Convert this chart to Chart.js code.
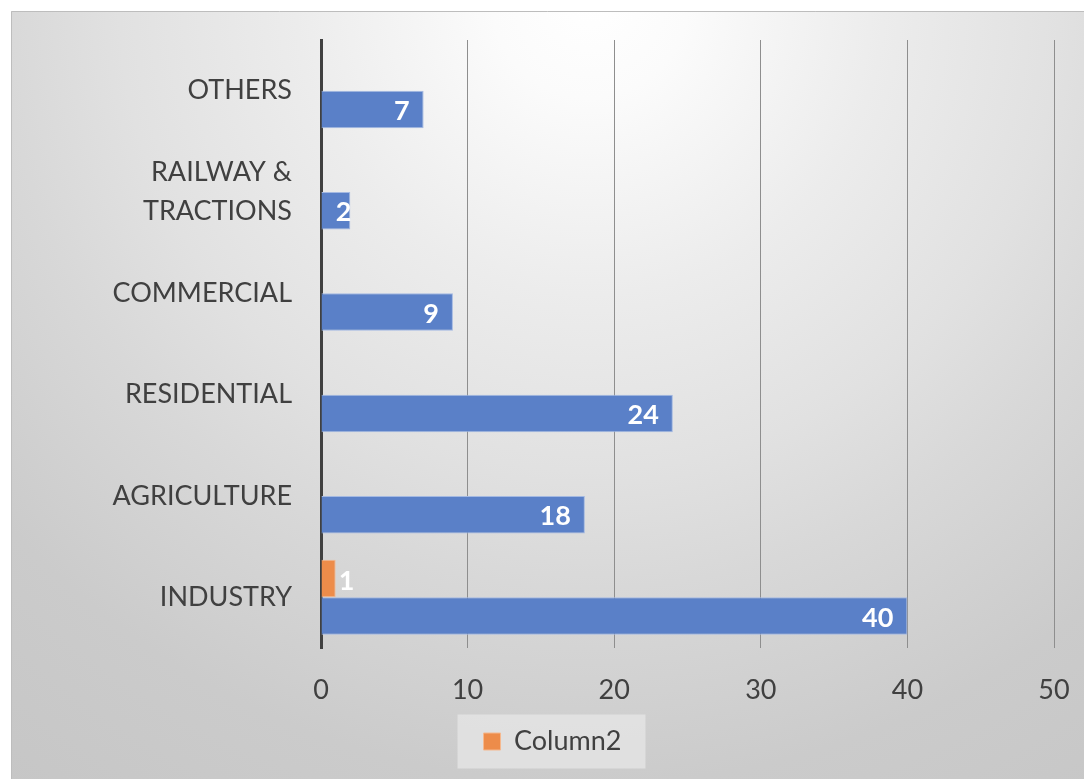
<!DOCTYPE html>
<html>
<head>
<meta charset="utf-8">
<script src="https://cdn.jsdelivr.net/npm/chart.js@4"></script>
<style>
  html, body { margin: 0; padding: 0; background: #fff; }
  #wrap { width: 1084px; height: 779px; }
</style>
</head>
<body>
<div id="wrap"><canvas id="chart" width="1084" height="779"></canvas></div>
<script>
const categories = ['OTHERS', ['RAILWAY &', 'TRACTIONS'], 'COMMERCIAL', 'RESIDENTIAL', 'AGRICULTURE', 'INDUSTRY'];
const column1 = [7, 2, 9, 24, 18, 40];
const column2 = [null, null, null, null, null, 1];
const xTicks = [0, 10, 20, 30, 40, 50];

const FONT = 'Lato, "Open Sans", sans-serif';

// grey radial panel behind everything + legend box
const panelPlugin = {
    id: 'panel',
    beforeDraw(chart) {
        const ctx = chart.ctx;
        const w = chart.width, h = chart.height;
        ctx.save();
        const g = ctx.createRadialGradient(590, 0, 0, 590, 0, 980);
        g.addColorStop(0, '#ffffff');
        g.addColorStop(0.1, '#fbfbfb');
        g.addColorStop(0.3, '#ececec');
        g.addColorStop(0.48, '#e1e1e1');
        g.addColorStop(0.6, '#d8d8d8');
        g.addColorStop(0.8, '#cbcbcb');
        g.addColorStop(1, '#c6c6c6');
        ctx.fillStyle = g;
        ctx.fillRect(11, 11, w - 11, h - 11);
        ctx.strokeStyle = '#bdbdbd';
        ctx.lineWidth = 1;
        ctx.beginPath();
        ctx.moveTo(11.5, h);
        ctx.lineTo(11.5, 11.5);
        ctx.lineTo(w, 11.5);
        ctx.stroke();
        // legend box
        const hb = chart.legend && chart.legend.legendHitBoxes && chart.legend.legendHitBoxes[0];
        if (hb) {
            const cy = hb.top + hb.height / 2;
            ctx.fillStyle = 'rgba(232,232,232,0.7)';
            ctx.fillRect(hb.left - 26, cy - 27, hb.width + 50, 54);
        }
        ctx.restore();
    }
};

// value labels on the bars
const labelPlugin = {
    id: 'barLabels',
    afterDatasetsDraw(chart) {
        const ctx = chart.ctx;
        ctx.save();
        ctx.font = 'bold 27px ' + FONT;
        ctx.fillStyle = '#ffffff';
        ctx.textBaseline = 'middle';
        chart.data.datasets.forEach((ds, di) => {
            const meta = chart.getDatasetMeta(di);
            meta.data.forEach((bar, i) => {
                const v = ds.data[i];
                if (v === null || v === undefined) return;
                const txt = String(v);
                if (ds.label === 'Column1') {
                    const tw = ctx.measureText(txt).width;
                    ctx.textAlign = 'right';
                    const x = (bar.x - bar.base) < tw + 28 ? bar.x + 1 : bar.x - 14;
                    ctx.fillText(txt, x, bar.y + 2);
                } else {
                    ctx.textAlign = 'left';
                    ctx.fillText(txt, bar.x + 3, bar.y + 3);
                }
            });
        });
        ctx.restore();
    }
};

// keep the plot area where the layout puts it (no extra label padding)
const noScalePad = (scale) => {
    scale.paddingLeft = 0;
    scale.paddingRight = 0;
    scale.paddingTop = 0;
    scale.paddingBottom = 0;
};

new Chart(document.getElementById('chart'), {
    type: 'bar',
    data: {
        labels: categories,
        datasets: [
            {
                label: 'Column2',
                data: column2,
                backgroundColor: '#ed8c4a',
                borderColor: '#f5b88e',
                borderWidth: 1,
                categoryPercentage: 0.74,
                barPercentage: 1
            },
            {
                label: 'Column1',
                data: column1,
                backgroundColor: '#5a80c8',
                borderColor: '#a4b9e2',
                borderWidth: 1,
                categoryPercentage: 0.74,
                barPercentage: 1
            }
        ]
    },
    options: {
        indexAxis: 'y',
        responsive: false,
        animation: false,
        layout: { padding: { top: 40, right: 30, bottom: 14, left: 51 } },
        scales: {
            x: {
                min: 0,
                max: 50,
                afterBuildTicks: (scale) => { scale.ticks = xTicks.map(v => ({ value: v })); },
                afterFit: (scale) => { scale.height = 68; noScalePad(scale); },
                grid: { color: '#8e8e8e', lineWidth: 1, drawTicks: false },
                border: { display: false },
                ticks: {
                    color: '#404040',
                    padding: 26,
                    font: { family: FONT, size: 27 }
                }
            },
            y: {
                afterFit: (scale) => { scale.width = 270; noScalePad(scale); },
                grid: { display: false, drawTicks: false },
                border: { display: true, color: '#404040', width: 3 },
                ticks: {
                    color: '#404040',
                    padding: 29,
                    font: { family: FONT, size: 27, lineHeight: 1.44 }
                }
            }
        },
        plugins: {
            legend: {
                position: 'bottom',
                labels: {
                    filter: (item) => item.text !== 'Column1',
                    color: '#404040',
                    boxWidth: 17,
                    boxHeight: 17,
                    padding: 12,
                    font: { family: FONT, size: 27 }
                }
            },
            tooltip: { enabled: false }
        }
    },
    plugins: [panelPlugin, labelPlugin]
});
</script>
</body>
</html>
